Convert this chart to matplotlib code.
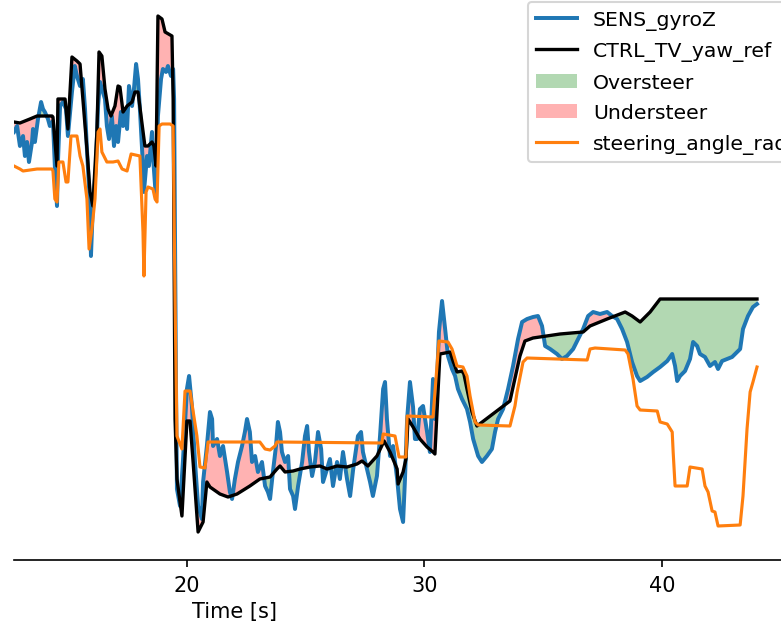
import numpy as np
import matplotlib.pyplot as plt

# yaw rate measured by the IMU [rad/s]
t_gyro = [12.73, 12.86, 12.98, 13.11, 13.19, 13.28, 13.36, 13.49, 13.53, 13.61, 13.74, 13.87,
          13.95, 14.03, 14.16, 14.24, 14.37, 14.45, 14.54, 14.58, 14.67, 14.79, 14.92, 15.00,
          15.17, 15.29, 15.38, 15.51, 15.63, 15.72, 15.80, 15.93, 15.97, 16.05, 16.18, 16.27,
          16.35, 16.43, 16.56, 16.64, 16.73, 16.85, 16.94, 17.03, 17.11, 17.23, 17.32, 17.40,
          17.49, 17.57, 17.70, 17.78, 17.87, 17.95, 18.03, 18.16, 18.20, 18.33, 18.41, 18.54,
          18.58, 18.71, 18.79, 18.92, 19.00, 19.13, 19.21, 19.34, 19.43, 19.47, 19.55, 19.59,
          19.72, 19.84, 20.01, 20.10, 20.22, 20.35, 20.48, 20.64, 20.69, 20.85, 20.98, 21.07,
          21.11, 21.28, 21.40, 21.53, 21.70, 21.82, 21.91, 22.03, 22.16, 22.33, 22.45, 22.54,
          22.66, 22.75, 22.88, 23.00, 23.17, 23.30, 23.42, 23.51, 23.63, 23.76, 23.84, 23.93,
          24.01, 24.14, 24.27, 24.35, 24.48, 24.56, 24.69, 24.86, 24.98, 25.07, 25.15, 25.28,
          25.40, 25.53, 25.66, 25.74, 25.91, 26.03, 26.16, 26.33, 26.45, 26.58, 26.75, 26.88,
          27.01, 27.21, 27.34, 27.42, 27.59, 27.72, 27.84, 28.01, 28.14, 28.27, 28.35, 28.43,
          28.56, 28.69, 28.86, 28.98, 29.11, 29.19, 29.28, 29.40, 29.53, 29.61, 29.70, 29.82,
          29.95, 30.12, 30.24, 30.37, 30.45, 30.54, 30.62, 30.75, 30.88, 31.00, 31.17, 31.30,
          31.42, 31.59, 31.80, 31.93, 32.06, 32.27, 32.43, 32.64, 32.85, 32.98, 33.11, 33.32,
          33.53, 33.74, 33.95, 34.12, 34.33, 34.58, 34.79, 34.96, 35.09, 35.30, 35.59, 35.80,
          36.01, 36.27, 36.48, 36.69, 36.90, 37.11, 37.40, 37.70, 37.91, 38.12, 38.33, 38.54,
          38.75, 38.96, 39.09, 39.38, 39.64, 39.93, 40.23, 40.44, 40.56, 40.65, 40.77, 40.98,
          41.19, 41.32, 41.49, 41.61, 41.82, 42.03, 42.24, 42.37, 42.54, 42.75, 42.96, 43.17,
          43.30, 43.42, 43.63, 43.84, 44.01]
gyro_z = [0.735, 0.765, 0.665, 0.715, 0.615, 0.685, 0.585, 0.685, 0.75, 0.685, 0.80, 0.885,
          0.85, 0.835, 0.80, 0.765, 0.79, 0.565, 0.365, 0.585, 0.865, 0.885, 0.85, 0.715,
          0.935, 1.065, 1.015, 0.965, 1.0, 0.85, 0.65, 0.365, 0.115, 0.365, 0.565, 0.865,
          0.985, 0.95, 0.90, 0.765, 0.70, 0.815, 0.665, 0.765, 0.685, 0.835, 0.765, 0.85,
          0.75, 0.965, 0.865, 0.95, 1.075, 1.0, 0.85, 0.565, 0.435, 0.615, 0.565, 0.735,
          0.615, 0.40, 0.815, 1.0, 1.05, 1.035, 1.065, 1.015, 1.05, 0.90, -0.535, -1.05,
          -1.135, -0.915, -0.55, -0.485, -0.635, -0.915, -1.135, -1.2, -1.015, -0.835, -0.665, -0.70,
          -0.835, -0.80, -0.885, -0.835, -0.965, -1.065, -1.10, -1.0, -0.915, -0.835, -0.765, -0.70,
          -0.765, -0.915, -0.885, -0.965, -0.915, -1.035, -1.065, -1.10, -0.965, -0.835, -0.715, -0.765,
          -0.865, -0.915, -0.885, -1.05, -1.085, -1.15, -1.035, -0.915, -0.785, -0.735, -0.865, -0.985,
          -0.915, -0.765, -0.85, -1.015, -0.95, -0.90, -1.035, -0.915, -1.0, -0.865, -1.0, -1.085,
          -0.95, -0.785, -0.765, -0.865, -0.95, -1.015, -1.085, -0.985, -0.785, -0.55, -0.515, -0.70,
          -0.885, -0.835, -1.0, -1.15, -1.215, -1.0, -0.70, -0.515, -0.64, -0.80, -0.80, -0.65,
          -0.635, -0.765, -0.865, -0.50, -0.70, -0.50, -0.265, -0.11, -0.25, -0.385, -0.45, -0.485,
          -0.55, -0.60, -0.65, -0.715, -0.80, -0.885, -0.915, -0.885, -0.85, -0.765, -0.70, -0.65,
          -0.55, -0.435, -0.30, -0.215, -0.20, -0.19, -0.185, -0.235, -0.335, -0.35, -0.375, -0.40,
          -0.385, -0.35, -0.30, -0.25, -0.185, -0.165, -0.175, -0.165, -0.185, -0.20, -0.25, -0.315,
          -0.415, -0.485, -0.51, -0.49, -0.465, -0.44, -0.41, -0.375, -0.435, -0.51, -0.485, -0.46,
          -0.40, -0.315, -0.335, -0.375, -0.39, -0.435, -0.415, -0.45, -0.41, -0.40, -0.39, -0.365,
          -0.35, -0.25, -0.185, -0.14, -0.125]

# torque vectoring yaw rate reference [rad/s]
t_ref = [12.73, 12.98, 13.19, 13.40, 13.70, 14.16, 14.33, 14.37, 14.54, 14.58, 14.88, 15.00,
         15.17, 15.38, 15.51, 15.63, 15.80, 15.93, 16.05, 16.22, 16.31, 16.43, 16.56, 16.69,
         16.81, 16.98, 17.11, 17.19, 17.32, 17.49, 17.70, 17.82, 17.95, 18.24, 18.37, 18.54,
         18.62, 18.71, 18.79, 18.96, 19.09, 19.38, 19.43, 19.51, 19.59, 19.80, 20.01, 20.14,
         20.27, 20.48, 20.69, 20.85, 20.98, 21.40, 21.74, 22.12, 22.66, 23.08, 23.51, 23.80,
         23.93, 24.14, 24.48, 24.77, 25.19, 25.61, 25.91, 26.33, 26.75, 27.17, 27.38, 27.63,
         28.01, 28.31, 28.56, 28.86, 28.90, 29.11, 29.23, 29.32, 29.53, 29.82, 30.12, 30.37,
         30.45, 30.66, 31.09, 31.21, 31.38, 31.59, 31.67, 31.80, 32.01, 32.22, 33.61, 34.03,
         34.24, 34.58, 35.72, 36.69, 36.98, 37.70, 38.46, 38.75, 39.09, 39.51, 39.93, 44.01]
yaw_ref = [0.785, 0.78, 0.79, 0.80, 0.815, 0.815, 0.815, 0.81, 0.565, 0.90, 0.90, 0.75,
           1.11, 1.09, 1.075, 0.90, 0.65, 0.435, 0.365, 0.735, 1.135, 1.115, 0.95, 0.85,
           0.815, 0.865, 0.965, 0.96, 0.835, 0.865, 0.885, 0.935, 0.935, 0.665, 0.665, 0.685,
           0.665, 0.565, 1.315, 1.30, 1.235, 1.215, 0.90, -0.70, -1.0, -1.185, -0.71, -0.71,
           -0.915, -1.265, -1.215, -1.015, -1.04, -1.075, -1.09, -1.075, -1.035, -1.0, -0.99, -0.95,
           -0.935, -0.965, -0.96, -0.95, -0.94, -0.935, -0.95, -0.935, -0.94, -0.925, -0.91, -0.935,
           -0.885, -0.81, -0.865, -0.95, -1.025, -0.965, -0.90, -0.70, -0.74, -0.80, -0.84, -0.865,
           -0.875, -0.375, -0.365, -0.41, -0.465, -0.46, -0.475, -0.55, -0.665, -0.735, -0.61, -0.385,
           -0.31, -0.295, -0.275, -0.265, -0.235, -0.20, -0.165, -0.185, -0.215, -0.165, -0.10, -0.10]

# steering wheel angle [rad]
t_steer = [12.73, 12.98, 13.11, 13.70, 14.33, 14.37, 14.45, 14.54, 14.62, 14.79, 14.92, 15.00,
           15.13, 15.38, 15.51, 15.63, 15.80, 15.89, 16.01, 16.14, 16.27, 16.35, 16.43, 16.64,
           16.90, 17.11, 17.28, 17.49, 17.66, 18.03, 18.16, 18.20, 18.29, 18.37, 18.58, 18.67,
           18.75, 18.84, 18.96, 19.30, 19.43, 19.51, 19.59, 19.80, 19.93, 20.14, 20.43, 20.56,
           20.77, 20.90, 23.08, 23.30, 23.51, 23.72, 23.80, 28.22, 28.27, 28.77, 28.94, 29.23,
           29.28, 30.37, 30.62, 31.00, 31.17, 31.38, 31.63, 31.80, 31.93, 32.14, 32.27, 33.61,
           33.82, 33.91, 34.16, 34.33, 36.86, 36.98, 37.19, 38.46, 38.58, 38.79, 38.96, 39.09,
           39.81, 39.93, 40.23, 40.44, 40.48, 40.56, 41.07, 41.19, 41.70, 41.82, 41.95, 42.12,
           42.24, 42.37, 43.30, 43.42, 43.59, 43.72, 43.84, 44.01]
steer = [0.565, 0.55, 0.54, 0.55, 0.55, 0.54, 0.40, 0.385, 0.585, 0.585, 0.485, 0.485,
         0.715, 0.715, 0.615, 0.565, 0.40, 0.15, 0.25, 0.40, 0.735, 0.75, 0.635, 0.585,
         0.585, 0.59, 0.55, 0.54, 0.625, 0.615, 0.235, 0.015, 0.435, 0.46, 0.45, 0.40,
         0.385, 0.765, 0.775, 0.775, 0.765, -0.10, -0.785, -0.85, -0.56, -0.56, -0.785, -0.94,
         -0.945, -0.815, -0.815, -0.85, -0.855, -0.835, -0.815, -0.82, -0.775, -0.785, -0.89, -0.89,
         -0.685, -0.69, -0.31, -0.315, -0.35, -0.435, -0.44, -0.485, -0.585, -0.715, -0.73, -0.735,
         -0.635, -0.565, -0.415, -0.395, -0.405, -0.35, -0.345, -0.355, -0.375, -0.50, -0.635, -0.655,
         -0.66, -0.715, -0.725, -0.765, -0.865, -1.035, -1.035, -0.94, -0.95, -1.035, -1.065, -1.16,
         -1.165, -1.235, -1.23, -1.085, -0.75, -0.565, -0.515, -0.44]

W, H = 782, 626
fig = plt.figure(figsize=(W / 150, H / 150), dpi=150)
ax = fig.add_axes([14 / W, 1 - 561 / H, 786 / W, 561 / H])

ax.plot(t_gyro, gyro_z, color='tab:blue', lw=1.9, label='SENS_gyroZ')
ax.plot(t_ref, yaw_ref, color='black', lw=1.6, label='CTRL_TV_yaw_ref')

# over/understeer shading between measured and reference yaw rate
t_all = np.union1d(t_gyro, t_ref)
g = np.interp(t_all, t_gyro, gyro_z)
r = np.interp(t_all, t_ref, yaw_ref)
ax.fill_between(t_all, g, r, where=np.abs(g) >= np.abs(r), interpolate=True,
                color='green', alpha=0.3, lw=0, label='Oversteer', zorder=1)
ax.fill_between(t_all, g, r, where=np.abs(g) <= np.abs(r), interpolate=True,
                color='red', alpha=0.3, lw=0, label='Understeer', zorder=1)

ax.plot(t_steer, steer, color='tab:orange', lw=1.5, label='steering_angle_rad')

ax.set_xlim(12.73, 45.82)
ax.set_ylim(-1.405, 1.4)
ax.set_xticks([20, 30, 40])
ax.set_yticks([])
for s in ['top', 'right', 'left']:
    ax.spines[s].set_visible(False)
ax.set_xlabel('Time [s]')
ax.xaxis.set_label_coords(0.281, -0.073)

fig.legend(*ax.get_legend_handles_labels(), loc='upper left', fontsize=9.75,
           labelspacing=0.56, bbox_to_anchor=(528 / W, 1 - 3 / H), borderaxespad=0)

fig.savefig('out.png', dpi=150)
